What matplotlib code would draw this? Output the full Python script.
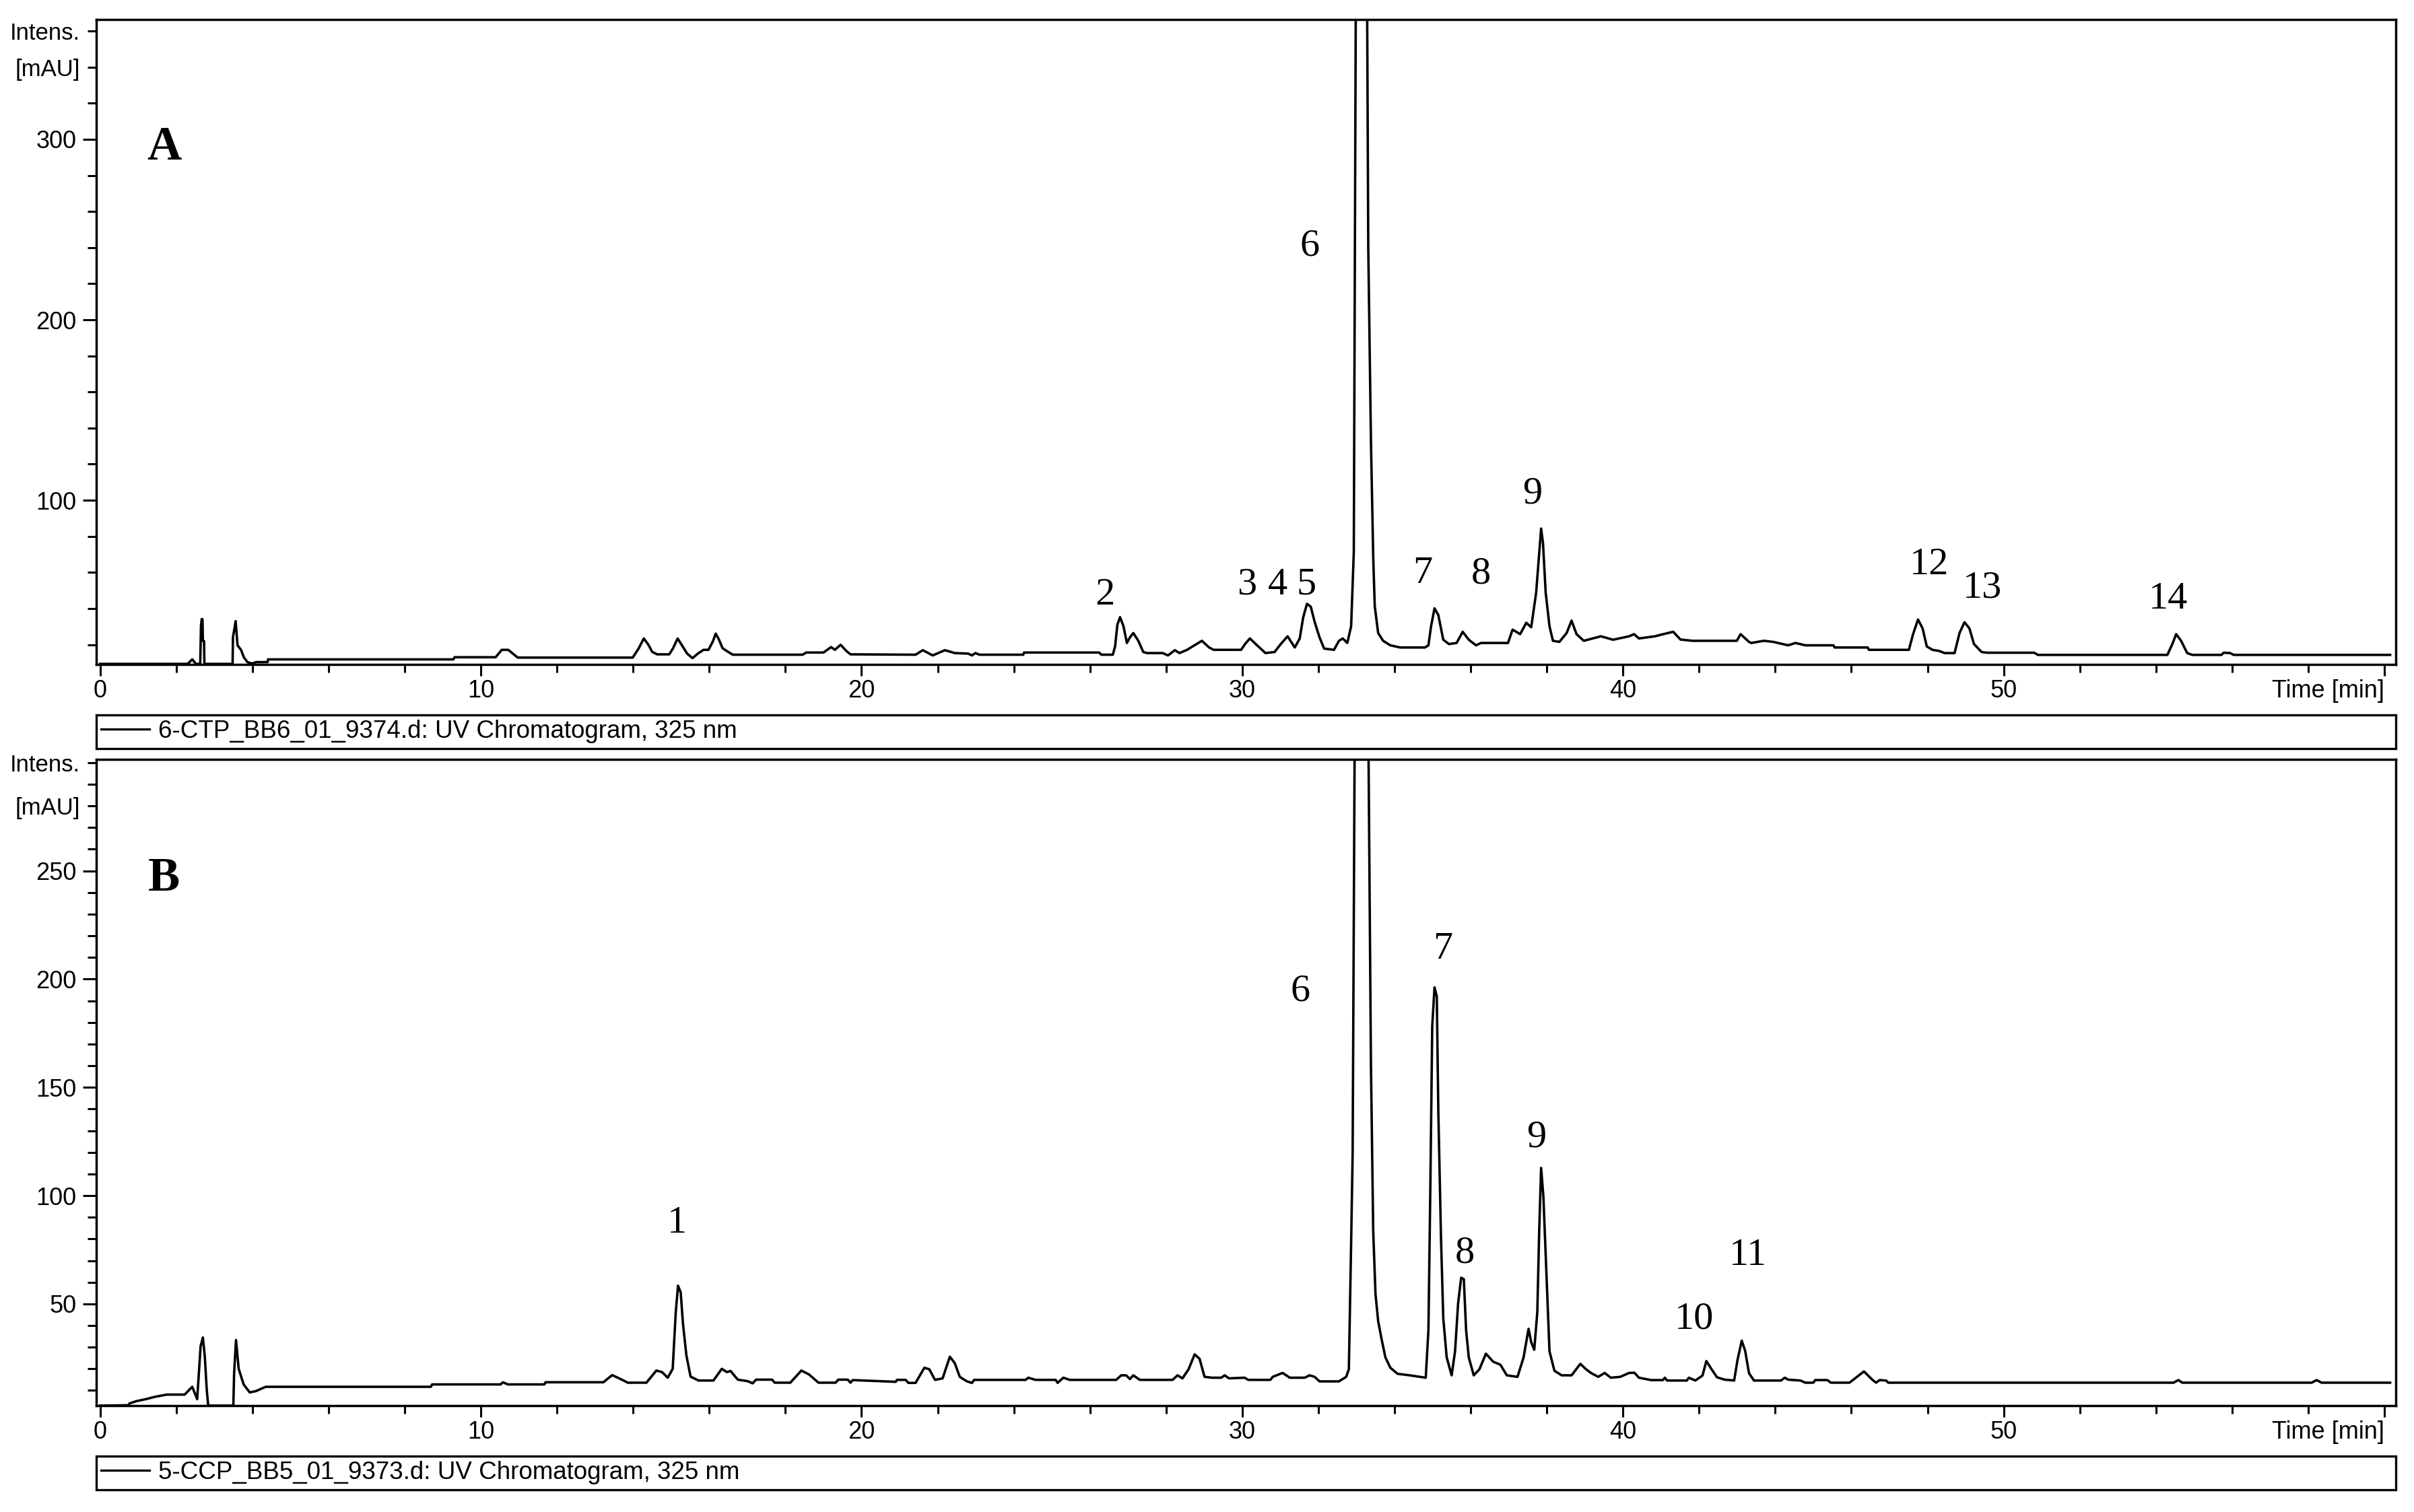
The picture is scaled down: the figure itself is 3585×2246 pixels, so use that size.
import matplotlib
matplotlib.use("Agg")
import matplotlib.pyplot as plt
from matplotlib.lines import Line2D
from matplotlib.ticker import MultipleLocator

# ---- data (time in min, intensity in mAU)
time_a = [0.0, 2.30, 2.42, 2.52, 2.63, 2.65, 2.67, 2.69, 2.70, 2.73, 2.74, 3.48, 3.49, 3.56,
          3.61, 3.70, 3.78, 3.87, 3.99, 4.10, 4.40, 4.41, 9.28, 9.31, 10.39, 10.55, 10.72,
          10.97, 13.99, 14.15, 14.28, 14.40, 14.50, 14.63, 14.95, 15.05, 15.17, 15.30, 15.42,
          15.56, 15.70, 15.85, 15.98, 16.10, 16.17, 16.25, 16.35, 16.50, 16.62, 18.45, 18.55,
          19.00, 19.20, 19.30, 19.45, 19.60, 19.71, 21.42, 21.61, 21.87, 22.19, 22.45, 22.80,
          22.90, 22.99, 23.10, 24.25, 24.27, 26.24, 26.30, 26.60, 26.66, 26.72, 26.79, 26.88,
          26.97, 27.05, 27.14, 27.27, 27.40, 27.50, 27.91, 28.05, 28.23, 28.35, 28.55, 28.94,
          29.13, 29.25, 29.97, 30.08, 30.20, 30.42, 30.61, 30.85, 31.00, 31.19, 31.38, 31.51,
          31.60, 31.70, 31.80, 31.90, 32.03, 32.15, 32.41, 32.54, 32.64, 32.76, 32.86, 32.93,
          32.96, 32.99, 33.27, 33.31, 33.38, 33.44, 33.48, 33.57, 33.70, 33.89, 34.15, 34.80,
          34.89, 34.96, 35.05, 35.15, 35.28, 35.43, 35.63, 35.79, 35.95, 36.14, 36.27, 36.98,
          37.10, 37.30, 37.46, 37.59, 37.72, 37.81, 37.85, 37.90, 37.97, 38.07, 38.16, 38.33,
          38.52, 38.65, 38.78, 38.97, 39.42, 39.74, 40.16, 40.29, 40.42, 40.84, 41.06, 41.32,
          41.51, 41.83, 42.99, 43.09, 43.31, 43.37, 43.70, 43.95, 44.34, 44.53, 44.79, 45.53,
          45.56, 46.43, 46.46, 47.51, 47.62, 47.75, 47.87, 47.98, 48.13, 48.30, 48.45, 48.71,
          48.84, 48.97, 49.10, 49.22, 49.42, 49.55, 50.80, 50.90, 54.30, 54.43, 54.53, 54.66,
          54.82, 54.95, 55.72, 55.78, 55.95, 56.04, 60.15]
intens_a = [9.3, 9.3, 11.8, 9.3, 9.3, 30.5, 34.2, 34.0, 22.1, 22.0, 9.3, 9.3, 24.0, 33.0,
            19.6, 17.1, 12.8, 10.3, 9.5, 10.3, 10.3, 11.8, 11.8, 13.0, 13.0, 17.1, 17.1,
            12.8, 12.8, 18.0, 23.4, 20.0, 16.0, 14.6, 14.6, 18.0, 23.4, 19.0, 15.0,
            12.5, 15.0, 17.1, 17.1, 22.0, 26.1, 23.0, 18.0, 15.9, 14.4, 14.4, 15.6,
            15.6, 18.6, 17.1, 19.9, 16.5, 14.6, 14.4, 16.9, 14.0, 16.9, 15.3, 15.0,
            14.0, 15.3, 14.4, 14.4, 15.6, 15.6, 14.4, 14.4, 19.0, 31.0, 35.2, 30.2,
            20.9, 24.0, 26.4, 22.1, 15.9, 15.3, 15.3, 14.0, 16.9, 15.3, 17.1, 22.1,
            18.4, 17.1, 17.1, 20.5, 23.4, 19.0, 15.3, 15.9, 20.0, 24.6, 18.4, 23.4,
            35.0, 42.6, 41.0, 32.7, 24.0, 17.8, 17.1, 22.1, 23.4, 20.9, 30.2, 71.2,
            240.0, 420.0, 420.0, 240.0, 133.4, 68.7, 41.4, 26.4, 22.1, 19.6, 18.4, 18.4,
            19.6, 30.2, 40.1, 36.4, 22.7, 20.3, 20.9, 27.1, 22.7, 19.6, 20.9, 20.9,
            28.3, 25.8, 32.1, 29.6, 48.8, 73.7, 84.3, 76.2, 48.8, 30.2, 22.1, 21.5,
            26.4, 33.3, 25.8, 22.1, 24.6, 22.7, 24.6, 25.8, 23.4, 24.6, 25.8, 27.1,
            22.8, 22.1, 22.1, 25.8, 21.5, 20.9, 22.1, 21.5, 19.6, 20.9, 19.6, 19.6,
            18.4, 18.4, 17.1, 17.1, 25.8, 33.9, 29.0, 19.0, 17.1, 16.5, 15.3, 15.3,
            26.4, 32.4, 29.0, 20.3, 15.9, 15.5, 15.5, 14.3, 14.3, 20.3, 25.8, 22.1,
            15.3, 14.3, 14.3, 15.5, 15.3, 14.3, 14.3]

time_b = [0.0, 0.75, 0.77, 0.94, 1.20, 1.45, 1.75, 2.22, 2.42, 2.55, 2.64, 2.70, 2.75, 2.80,
          2.84, 3.50, 3.52, 3.57, 3.64, 3.77, 3.93, 4.09, 4.22, 4.35, 8.69, 8.72, 10.52,
          10.58, 10.71, 11.67, 11.70, 13.22, 13.45, 13.67, 13.86, 14.35, 14.61, 14.76, 14.91,
          15.04, 15.12, 15.18, 15.25, 15.31, 15.40, 15.51, 15.72, 16.11, 16.33, 16.46, 16.56,
          16.75, 17.01, 17.14, 17.23, 17.65, 17.72, 18.13, 18.42, 18.62, 18.87, 19.32, 19.39,
          19.64, 19.71, 19.77, 20.90, 20.93, 21.16, 21.23, 21.42, 21.65, 21.78, 21.93, 22.13,
          22.32, 22.45, 22.58, 22.77, 22.90, 22.96, 24.31, 24.38, 24.57, 25.10, 25.15, 25.30,
          25.47, 26.69, 26.82, 26.95, 27.05, 27.14, 27.31, 28.17, 28.30, 28.43, 28.59, 28.75,
          28.88, 29.01, 29.20, 29.45, 29.54, 29.65, 30.06, 30.16, 30.74, 30.80, 31.06, 31.25,
          31.64, 31.77, 31.90, 32.03, 32.54, 32.73, 32.80, 32.86, 32.90, 32.95, 32.99, 33.27,
          33.31, 33.38, 33.44, 33.50, 33.57, 33.66, 33.76, 33.89, 34.08, 34.40, 34.66, 34.82,
          34.89, 34.94, 34.99, 35.05, 35.11, 35.15, 35.22, 35.28, 35.37, 35.50, 35.59, 35.67,
          35.75, 35.82, 35.88, 35.95, 36.08, 36.23, 36.40, 36.59, 36.78, 36.95, 37.23, 37.39,
          37.52, 37.59, 37.67, 37.75, 37.80, 37.85, 37.91, 37.98, 38.07, 38.20, 38.39, 38.65,
          38.88, 39.03, 39.16, 39.35, 39.52, 39.68, 39.93, 40.16, 40.30, 40.42, 40.74, 41.05,
          41.10, 41.16, 41.68, 41.73, 41.90, 42.09, 42.19, 42.32, 42.47, 42.67, 42.92, 43.01,
          43.12, 43.21, 43.31, 43.44, 44.15, 44.25, 44.34, 44.66, 44.79, 45.00, 45.05, 45.37,
          45.46, 45.95, 46.33, 46.56, 46.65, 46.74, 46.91, 46.97, 54.46, 54.59, 54.69, 58.09,
          58.22, 58.35, 60.15]
intens_b = [3.0, 3.2, 4.0, 5.0, 6.0, 7.1, 8.1, 8.1, 11.7, 6.0, 30.4, 34.5, 25.7, 10.7,
            3.0, 3.0, 18.0, 33.3, 20.0, 12.8, 9.1, 9.7, 10.7, 11.7, 11.7, 12.8, 12.8,
            13.8, 12.8, 12.8, 13.8, 13.8, 17.1, 15.3, 13.6, 13.6, 19.2, 18.5, 15.9,
            20.0, 46.0, 58.4, 55.3, 40.8, 26.2, 16.4, 14.6, 14.6, 20.0, 18.5, 19.0,
            15.0, 14.3, 13.3, 15.0, 15.0, 13.6, 13.6, 19.2, 17.4, 13.6, 13.6, 15.0,
            15.0, 13.6, 14.8, 14.0, 14.9, 14.9, 13.5, 13.5, 20.5, 19.8, 14.9, 15.6,
            25.6, 22.6, 16.3, 14.2, 13.5, 14.9, 14.9, 15.9, 14.9, 14.9, 13.5, 15.9,
            14.9, 14.9, 17.0, 17.0, 15.3, 17.0, 14.9, 14.9, 17.0, 15.6, 19.8, 26.7,
            24.6, 16.3, 15.9, 15.9, 17.0, 15.6, 15.9, 14.9, 14.9, 16.3, 18.1, 15.9,
            15.9, 17.0, 16.3, 14.2, 14.2, 16.3, 19.8, 78.1, 119.8, 300.0, 420.0, 420.0,
            320.0, 161.0, 83.7, 54.5, 42.0, 33.7, 25.3, 20.5, 17.7, 17.0, 16.3, 15.9,
            37.8, 103.1, 178.1, 196.2, 192.0, 139.2, 80.9, 43.4, 25.3, 17.0, 28.1, 50.3,
            62.1, 61.4, 37.8, 25.3, 17.0, 19.8, 27.0, 23.3, 21.9, 17.0, 16.3, 25.3,
            38.5, 32.3, 28.8, 46.2, 83.7, 112.8, 99.6, 68.4, 28.1, 19.1, 17.0, 17.0,
            22.3, 19.8, 18.1, 16.3, 18.1, 15.9, 16.3, 18.1, 18.2, 15.9, 14.8, 14.8,
            15.9, 14.6, 14.6, 15.9, 14.6, 16.9, 23.6, 20.0, 16.1, 15.0, 14.6, 24.2,
            33.0, 28.3, 18.0, 14.6, 14.6, 15.9, 15.0, 14.6, 13.6, 13.6, 14.8, 14.8,
            13.6, 13.6, 18.8, 14.8, 13.6, 14.8, 14.6, 13.6, 13.6, 14.8, 13.6, 13.6,
            14.8, 13.6, 13.6]

# peak numbers: label, time, intensity of label centre
labels_a = ["2", "3", "4", "5", "6", "7", "8", "9", "12", "13", "14"]
label_t_a = [26.39, 30.12, 30.93, 31.68, 31.78, 34.73, 36.27, 37.62, 48.04, 49.44, 54.33]
label_v_a = [47.6, 53.2, 53.2, 53.2, 240.7, 59.2, 59.2, 103.6, 64.4, 51.4, 45.1]

labels_b = ["1", "6", "7", "8", "9", "10", "11"]
label_t_b = [15.15, 31.52, 35.26, 35.85, 37.72, 41.87, 43.28]
label_v_b = [87.2, 194.3, 213.7, 73.3, 126.8, 42.8, 72.4]

legend_a = "6-CTP_BB6_01_9374.d: UV Chromatogram, 325 nm"
legend_b = "5-CCP_BB5_01_9373.d: UV Chromatogram, 325 nm"

x_major = [0, 10, 20, 30, 40, 50, 60]
x_major_labels = ["0", "10", "20", "30", "40", "50", "Time [min]"]

SANS = ["Liberation Sans", "DejaVu Sans"]
SERIF = ["Liberation Serif", "DejaVu Serif"]

W, H = 3585, 2246
fig = plt.figure(figsize=(W / 100, H / 100), dpi=100)


def px_axes(left, top, right, bottom):
    return fig.add_axes([left / W, 1 - bottom / H, (right - left) / W, (bottom - top) / H])


def style(ax, ylim, ymajor, yminor, unit_ticks):
    ax.set_xlim(-0.1, 60.3)
    ax.set_ylim(*ylim)
    for s in ax.spines.values():
        s.set_linewidth(2.5)
    ax.set_xticks(x_major, labels=x_major_labels)
    ax.xaxis.set_minor_locator(MultipleLocator(2))
    ax.set_yticks(ymajor)
    minor = [v for v in range(yminor, int(ylim[1]) + 1, yminor) if v not in ymajor]
    mlabels = [unit_ticks.get(v, "") for v in minor]
    ax.set_yticks(minor, labels=mlabels, minor=True)
    ax.tick_params(axis="x", which="major", length=12, width=2.2, pad=4, labelsize=26)
    ax.tick_params(axis="x", which="minor", length=8.5, width=2.2)
    ax.tick_params(axis="y", which="major", length=14.4, width=2.2, pad=7, labelsize=26)
    ax.tick_params(axis="y", which="minor", length=9.4, width=2.2, pad=8, labelsize=25)
    for lbl in ax.get_xticklabels() + ax.get_yticklabels() + ax.get_yticklabels(minor=True):
        lbl.set_family(SANS)
    for lbl in ax.get_xticklabels():
        if lbl.get_text() == "Time [min]":
            lbl.set_horizontalalignment("right")


def add_legend(ax, text, y_top):
    h = Line2D([], [], color="black", linewidth=2.4)
    leg = ax.legend([h], [text], loc="upper left", bbox_to_anchor=(0, y_top, 1, 0),
                    mode="expand", borderaxespad=0, borderpad=0.2, handlelength=1.95,
                    handletextpad=0.36, fancybox=False, framealpha=1,
                    prop={"family": SANS, "size": 26.5})
    leg.get_frame().set_edgecolor("black")
    leg.get_frame().set_linewidth(2.4)


# ---- panel A
ax_a = px_axes(143, 29, 3558, 987)
ax_a.plot(time_a, intens_a, color="black", linewidth=2.6)
style(ax_a, (9.0, 366.4), [100, 200, 300], 20, {340: "[mAU]", 360: "Intens."})
for lab, t, v in zip(labels_a, label_t_a, label_v_a):
    ax_a.text(t, v, lab, ha="center", va="center", fontsize=42, family=SERIF)
ax_a.text(1.68, 295.5, "A", ha="center", va="center", fontsize=51, fontweight="bold",
          family=SERIF)
add_legend(ax_a, legend_a, -(1062 - 987) / (987 - 29))

# ---- panel B
ax_b = px_axes(143, 1128, 3558, 2088)
ax_b.plot(time_b, intens_b, color="black", linewidth=2.6)
style(ax_b, (3.0, 301.5), [50, 100, 150, 200, 250], 10, {280: "[mAU]", 300: "Intens."})
for lab, t, v in zip(labels_b, label_t_b, label_v_b):
    ax_b.text(t, v, lab, ha="center", va="center", fontsize=42, family=SERIF)
ax_b.text(1.68, 246.3, "B", ha="center", va="center", fontsize=51, fontweight="bold",
          family=SERIF)
add_legend(ax_b, legend_b, -(2163 - 2088) / (2088 - 1128))

fig.savefig("out.png", dpi=100)
